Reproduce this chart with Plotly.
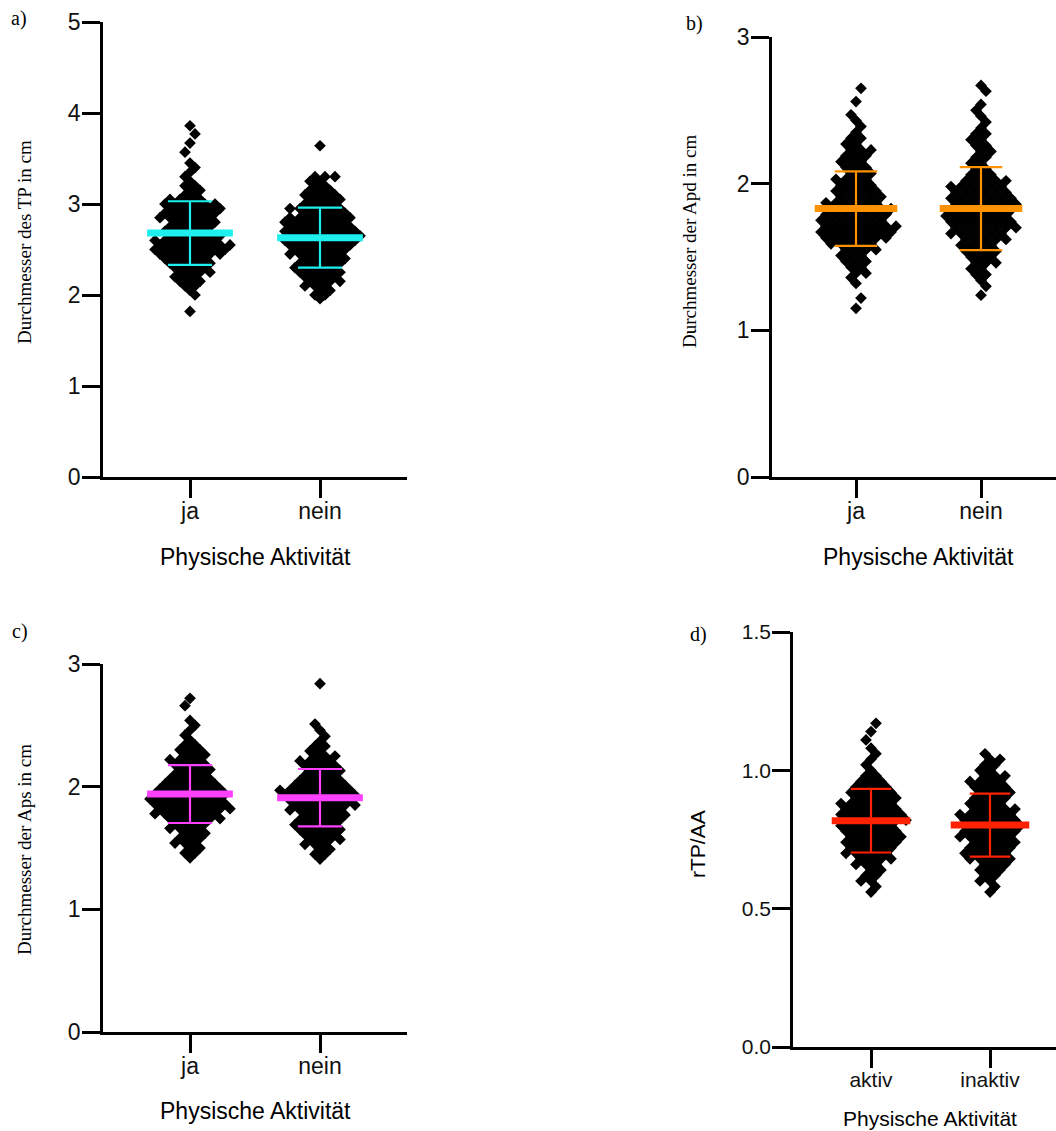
import plotly.graph_objects as go

# ---------------- data ----------------
# panel a: Durchmesser des TP (cm)
A_CATS = ["ja", "nein"]
A_JA_VALUES = [3.86, 3.77, 3.67, 3.57, 3.45, 3.40, 3.35, 3.30, 3.25, 3.20, 3.15, 3.10, 3.05, 3.00,
               2.95, 2.90, 2.85, 2.80, 2.75, 2.70, 2.65, 2.60, 2.55, 2.50, 2.45, 2.40, 2.35, 2.30,
               2.25, 2.20, 2.15, 2.10, 2.05, 2.00, 1.82]
A_JA_COUNTS = [1, 1, 1, 1, 1, 1, 1, 1, 1, 2, 2, 2, 4, 6,
               6, 6, 6, 5, 5, 5, 6, 7, 8, 8, 7, 5, 5, 4,
               4, 3, 3, 2, 1, 1, 1]
A_NEIN_VALUES = [3.64, 3.30, 3.25, 3.20, 3.15, 3.10, 3.05, 3.00, 2.95, 2.90, 2.85, 2.80, 2.75, 2.70,
                 2.65, 2.60, 2.55, 2.50, 2.45, 2.40, 2.35, 2.30, 2.25, 2.20, 2.15, 2.10, 2.05, 2.00, 1.96]
A_NEIN_COUNTS = [1, 3, 2, 2, 3, 4, 4, 4, 6, 5, 7, 7, 7, 8,
                 8, 8, 7, 6, 6, 5, 5, 5, 5, 4, 4, 3, 2, 2, 1]
A_MEAN = [2.68, 2.63]
A_SD = [0.35, 0.33]

# panel b: Durchmesser der Apd (cm)
B_CATS = ["ja", "nein"]
B_JA_VALUES = [2.65, 2.56, 2.47, 2.43, 2.39, 2.35, 2.31, 2.27, 2.23, 2.19, 2.15, 2.11, 2.07, 2.03,
               1.99, 1.95, 1.91, 1.87, 1.83, 1.79, 1.75, 1.71, 1.67, 1.63, 1.59, 1.55, 1.51, 1.47,
               1.43, 1.39, 1.36, 1.32, 1.22, 1.15]
B_JA_COUNTS = [1, 1, 1, 1, 1, 1, 2, 2, 3, 3, 3, 3, 3, 4,
               4, 5, 5, 6, 7, 7, 7, 8, 8, 7, 5, 4, 3, 3,
               2, 2, 1, 1, 1, 1]
B_NEIN_VALUES = [2.67, 2.63, 2.54, 2.50, 2.46, 2.42, 2.38, 2.34, 2.30, 2.26, 2.22, 2.18, 2.14, 2.10,
                 2.06, 2.02, 1.98, 1.94, 1.90, 1.86, 1.82, 1.78, 1.74, 1.70, 1.66, 1.62, 1.58, 1.54,
                 1.50, 1.46, 1.42, 1.38, 1.34, 1.30, 1.24]
B_NEIN_COUNTS = [1, 1, 1, 1, 1, 1, 1, 2, 2, 2, 2, 2, 2, 2,
                 3, 5, 6, 6, 7, 7, 7, 7, 7, 7, 6, 5, 4, 4,
                 3, 3, 2, 2, 1, 1, 1]
B_MEAN = [1.83, 1.83]
B_SD = [0.254, 0.283]

# panel c: Durchmesser der Aps (cm)
C_CATS = ["ja", "nein"]
C_JA_VALUES = [2.72, 2.66, 2.54, 2.50, 2.46, 2.42, 2.38, 2.34, 2.30, 2.26, 2.22, 2.18, 2.14, 2.10,
               2.06, 2.02, 1.98, 1.94, 1.90, 1.86, 1.82, 1.78, 1.74, 1.70, 1.66, 1.62, 1.58, 1.54,
               1.50, 1.46, 1.42]
C_JA_COUNTS = [1, 1, 1, 1, 1, 1, 1, 2, 3, 3, 4, 4, 4, 4,
               5, 6, 7, 8, 8, 8, 8, 7, 6, 4, 4, 3, 3, 3,
               2, 2, 1]
C_NEIN_VALUES = [2.84, 2.51, 2.46, 2.41, 2.37, 2.33, 2.29, 2.25, 2.21, 2.17, 2.13, 2.09, 2.05, 2.01,
                 1.97, 1.93, 1.89, 1.85, 1.81, 1.77, 1.73, 1.69, 1.65, 1.61, 1.57, 1.53, 1.49, 1.45, 1.41]
C_NEIN_COUNTS = [1, 1, 1, 1, 1, 2, 2, 3, 4, 4, 4, 4, 5, 6,
                 8, 8, 7, 7, 6, 5, 5, 5, 5, 4, 4, 3, 2, 2, 1]
C_MEAN = [1.94, 1.91]
C_SD = [0.236, 0.234]

# panel d: rTP/AA
D_CATS = ["aktiv", "inaktiv"]
D_AKTIV_VALUES = [1.17, 1.14, 1.11, 1.08, 1.06, 1.04, 1.02, 1.00, 0.98, 0.96, 0.94, 0.92, 0.90, 0.88,
                  0.86, 0.84, 0.82, 0.80, 0.78, 0.76, 0.74, 0.72, 0.70, 0.68, 0.66, 0.64, 0.62, 0.60,
                  0.58, 0.56]
D_AKTIV_COUNTS = [1, 1, 1, 1, 1, 1, 1, 1, 2, 3, 4, 5, 5, 6,
                  6, 7, 7, 6, 6, 6, 6, 5, 5, 4, 3, 2, 2, 2,
                  1, 1]
D_INAKTIV_VALUES = [1.06, 1.04, 1.02, 1.00, 0.98, 0.96, 0.94, 0.92, 0.90, 0.88, 0.86, 0.84, 0.82, 0.80,
                    0.78, 0.76, 0.74, 0.72, 0.70, 0.68, 0.66, 0.64, 0.62, 0.60, 0.58, 0.56]
D_INAKTIV_COUNTS = [1, 2, 2, 2, 3, 4, 4, 4, 4, 4, 5, 6, 6, 6,
                    6, 6, 5, 5, 5, 5, 3, 3, 2, 2, 1, 1]
D_MEAN = [0.818, 0.802]
D_SD = [0.115, 0.114]

# ---------------- layout helpers ----------------
W, H = 1056, 1131
SANS = "Liberation Sans, Arial, sans-serif"
SERIF = "Liberation Serif, Times New Roman, serif"

# pixel boxes of the four plot areas
PANELS = {
    "a": dict(box=(103, 407, 22, 477), cats=(190, 320), yr=(0, 5), dtick=1, fmt="d", fs=23),
    "b": dict(box=(772, 1056, 37, 477), cats=(856, 981), yr=(0, 3), dtick=1, fmt="d", fs=23),
    "c": dict(box=(103, 407, 664, 1032), cats=(190, 320), yr=(0, 3), dtick=1, fmt="d", fs=23),
    "d": dict(box=(793, 1056, 632, 1047), cats=(871, 990), yr=(0, 1.5), dtick=0.5, fmt=".1f", fs=21),
}


def swarm(values, counts, px_x, S=10.0):
    """Row-wise swarm layout: each value level is a centred row; neighbouring rows are
    staggered by half a step so the diamonds interlock."""
    xs, ys = [], []
    prev_phase = None
    flip = 1
    for v, c in sorted(zip(values, counts)):
        base = ((c - 1) * S / 2.0) % S
        shift = 0.0
        if prev_phase is not None and abs(((base - prev_phase) % S)) < 1e-6:
            shift = flip * S / 2.0
            flip = -flip
        prev_phase = (base + shift) % S
        for i in range(c):
            xs.append(((i - (c - 1) / 2.0) * S + shift) / px_x)
            ys.append(v)
    return xs, ys


fig = go.Figure()
layout = dict(width=W, height=H, margin=dict(l=0, r=0, t=0, b=0, autoexpand=False),
              showlegend=False, plot_bgcolor="white", paper_bgcolor="white")

groups = {
    "a": ([(A_JA_VALUES, A_JA_COUNTS), (A_NEIN_VALUES, A_NEIN_COUNTS)], A_MEAN, A_SD, A_CATS, "#1EEFEF"),
    "b": ([(B_JA_VALUES, B_JA_COUNTS), (B_NEIN_VALUES, B_NEIN_COUNTS)], B_MEAN, B_SD, B_CATS, "#FF9200"),
    "c": ([(C_JA_VALUES, C_JA_COUNTS), (C_NEIN_VALUES, C_NEIN_COUNTS)], C_MEAN, C_SD, C_CATS, "#FF40FF"),
    "d": ([(D_AKTIV_VALUES, D_AKTIV_COUNTS), (D_INAKTIV_VALUES, D_INAKTIV_COUNTS)], D_MEAN, D_SD, D_CATS, "#FF2200"),
}

for i, key in enumerate(["a", "b", "c", "d"]):
    p = PANELS[key]
    l, r, t, b = p["box"]
    c0, c1 = p["cats"]
    ppx = float(c1 - c0)
    xr = [(l - c0) / ppx, (r - c0) / ppx]
    y0, y1 = p["yr"]
    n = "" if i == 0 else str(i + 1)
    xa, ya = "x" + n, "y" + n
    layout["xaxis" + n] = dict(domain=[l / W, r / W], range=xr, anchor=ya, automargin=False,
                               showline=True, linecolor="black", linewidth=2.5,
                               showgrid=False, zeroline=False, ticks="outside", ticklen=18,
                               tickwidth=2.5, tickcolor="black", tickvals=[0, 1],
                               ticktext=groups[key][3], ticklabelstandoff=-6,
                               tickfont=dict(family=SANS, size=p["fs"], color="#111"))
    layout["yaxis" + n] = dict(domain=[1 - b / H, 1 - t / H], range=[y0, y1], anchor=xa,
                               automargin=False,
                               showline=True, linecolor="black", linewidth=2.5,
                               showgrid=False, zeroline=False, ticks="outside", ticklen=18,
                               tickwidth=2.5, tickcolor="black", dtick=p["dtick"], tick0=0,
                               tickformat=p["fmt"], ticklabelstandoff=-3,
                               tickfont=dict(family=SANS, size=p["fs"], color="#111"))
    data, means, sds, cats, col = groups[key]
    for k, (vals, cnts) in enumerate(data):
        xs, ys = swarm(vals, cnts, ppx)
        fig.add_trace(go.Scatter(x=[k + v for v in xs], y=ys, mode="markers", xaxis=xa, yaxis=ya,
                                 marker=dict(symbol="diamond", size=9, color="black",
                                             line=dict(width=0)),
                                 hoverinfo="skip", cliponaxis=False))
    for k in range(2):
        m, s = means[k], sds[k]
        fig.add_trace(go.Scatter(x=[k, k], y=[m - s, m + s], mode="lines", xaxis=xa, yaxis=ya,
                                 line=dict(color=col, width=2.2), hoverinfo="skip"))
        for e in (m - s, m + s):
            fig.add_trace(go.Scatter(x=[k - 0.17, k + 0.17], y=[e, e], mode="lines", xaxis=xa,
                                     yaxis=ya, line=dict(color=col, width=2.2), hoverinfo="skip"))
        fig.add_trace(go.Scatter(x=[k - 0.33, k + 0.33], y=[m, m], mode="lines", xaxis=xa, yaxis=ya,
                                 line=dict(color=col, width=7), hoverinfo="skip"))

fig.update_layout(**layout)


def px_ann(text, x, y, size, family, angle=0):
    fig.add_annotation(text=text, x=x / W, y=1 - y / H, xref="paper", yref="paper",
                       xanchor="center", yanchor="middle", showarrow=False, textangle=angle,
                       font=dict(family=family, size=size, color="black"))


# panel letters
px_ann("a)", 19, 19, 20, SERIF)
px_ann("b)", 694, 23, 20, SERIF)
px_ann("c)", 20, 631, 20, SERIF)
px_ann("d)", 698, 635, 20, SERIF)
# y titles
px_ann("Durchmesser des TP in cm", 25, 242, 19, SERIF, -90)
px_ann("Durchmesser der Apd in cm", 690, 242, 19, SERIF, -90)
px_ann("Durchmesser der Aps in cm", 25, 850, 19, SERIF, -90)
px_ann("rTP/AA", 697, 844, 21, SANS, -90)
# x titles
px_ann("Physische Aktivität", 255, 557, 23, SANS)
px_ann("Physische Aktivität", 918, 557, 23, SANS)
px_ann("Physische Aktivität", 255, 1111, 23, SANS)
px_ann("Physische Aktivität", 930, 1118, 21, SANS)

fig.write_html("out.html")
